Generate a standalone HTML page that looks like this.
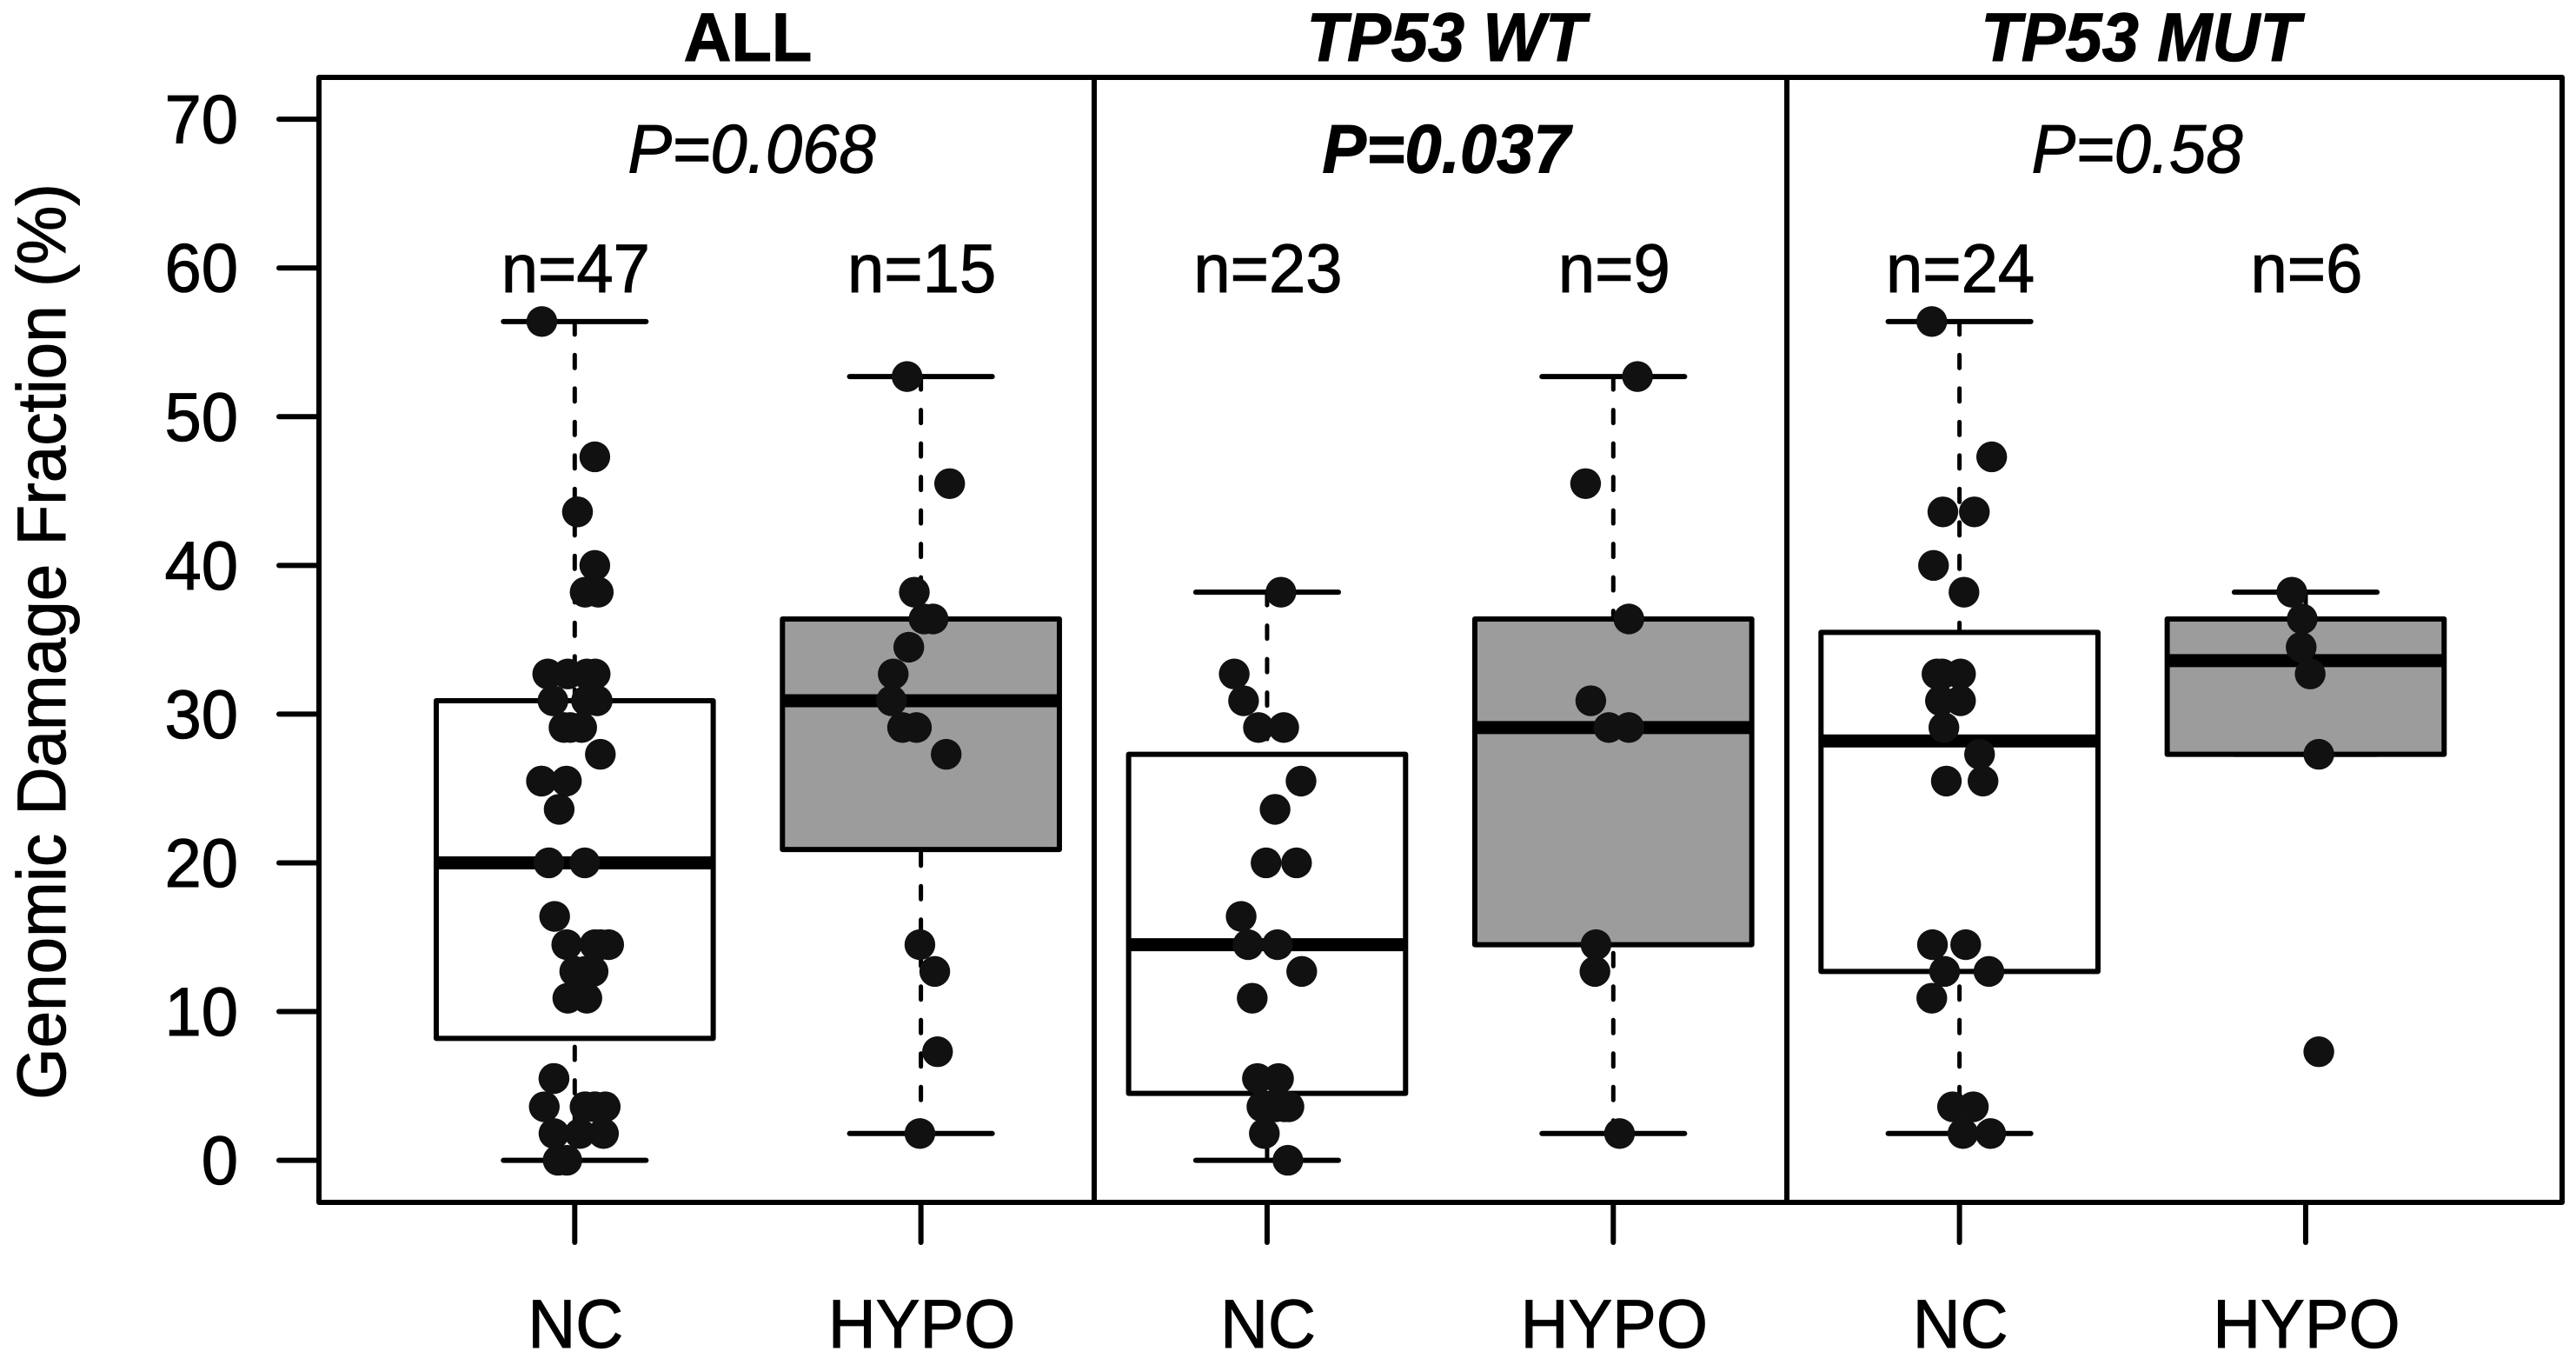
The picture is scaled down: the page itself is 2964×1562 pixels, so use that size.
<!DOCTYPE html>
<html lang="en">
<head>
<meta charset="utf-8">
<title>Genomic Damage Fraction boxplots</title>
<style>
html,body{margin:0;padding:0;background:#fff;}
svg{display:block;}
text{font-family:"Liberation Sans",Arial,sans-serif;fill:#000;stroke:#000;stroke-width:1;font-kerning:none;text-rendering:geometricPrecision;}
</style>
</head>
<body>
<svg id="chart" xmlns="http://www.w3.org/2000/svg" width="2964" height="1562" viewBox="0 0 2964 1562">
  <rect x="0" y="0" width="2964" height="1562" fill="#fff"/>
  <text x="0" y="0" transform="translate(75,738) rotate(-90) scale(1.006,1.04)" font-size="76" text-anchor="middle">Genomic Damage Fraction (%)</text>
  <text x="860.5" y="70" transform="translate(860.5 70) scale(1 1.04) translate(-860.5 -70)" font-size="76" font-weight="bold" text-anchor="middle">ALL</text>
  <text x="1664" y="70" transform="translate(1664 70) scale(1 1.04) translate(-1664 -70)" font-size="76" font-weight="bold" font-style="italic" text-anchor="middle">TP53 WT</text>
  <text x="2463" y="70" transform="translate(2463 70) scale(1 1.04) translate(-2463 -70)" font-size="76" font-weight="bold" font-style="italic" text-anchor="middle">TP53 MUT</text>
  <text x="865" y="198.5" transform="translate(865 198.5) scale(1 1.04) translate(-865 -198.5)" font-size="76" font-style="italic" text-anchor="middle">P=0.068</text>
  <text x="1664" y="198.5" transform="translate(1664 198.5) scale(1 1.04) translate(-1664 -198.5)" font-size="76" font-weight="bold" font-style="italic" text-anchor="middle">P=0.037</text>
  <text x="2459" y="198.5" transform="translate(2459 198.5) scale(1 1.04) translate(-2459 -198.5)" font-size="76" font-style="italic" text-anchor="middle">P=0.58</text>
  <g id="marks"></g>
  <g id="frame"></g>
  <g id="axes"></g>
</svg>
<script>
// ---- chart data ----
const yTickValues = [0, 10, 20, 30, 40, 50, 60, 70];
const yTickLabels = ["0", "10", "20", "30", "40", "50", "60", "70"];
const categories = ["NC", "HYPO", "NC", "HYPO", "NC", "HYPO"];
const groupNames = ["all-nc", "all-hypo", "wt-nc", "wt-hypo", "mut-nc", "mut-hypo"];
const sampleCounts = ["n=47", "n=15", "n=23", "n=9", "n=24", "n=6"];
const boxFills = ["#ffffff", "#9c9c9c", "#ffffff", "#9c9c9c", "#ffffff", "#9c9c9c"];

const whiskerLow  = [0,    1.8,  0,    1.8,  1.8,  27.3];
const quartile1   = [8.2,  20.9, 4.5,  14.5, 12.7, 27.3];
const medians     = [20,   30.9, 14.5, 29.1, 28.2, 33.6];
const quartile3   = [30.9, 36.4, 27.3, 36.4, 35.5, 36.4];
const whiskerHigh = [56.4, 52.7, 38.2, 52.7, 56.4, 38.2];

// Point values (percent) and horizontal jitter (in category units)
const allNcValues = [56.4,47.3,43.6,43.6,40,38.2,38.2,32.7,32.7,32.7,32.7,30.9,30.9,30.9,29.1,29.1,29.1,27.3,25.5,25.5,25.5,23.6,20,20,16.4,14.5,14.5,14.5,14.5,12.7,12.7,12.7,10.9,10.9,5.5,5.5,3.6,3.6,3.6,3.6,3.6,3.6,1.8,1.8,1.8,0,0];
const allNcJitter = [-0.095,0.058,0.008,0.008,0.058,0.030,0.068,-0.078,-0.020,0.035,0.059,-0.063,0.034,0.065,-0.031,-0.013,0.020,0.074,-0.096,-0.024,-0.096,-0.045,-0.075,0.029,-0.058,-0.023,0.058,0.098,0.075,0,0.030,0.053,-0.020,0.035,-0.060,-0.060,-0.088,0.030,0.058,0.088,0.058,0.030,-0.060,0.015,0.083,-0.048,-0.023];

const allHypoValues = [52.7,45.5,38.2,36.4,36.4,34.5,32.7,30.9,29.1,29.1,27.3,14.5,12.7,7.3,1.8];
const allHypoJitter = [-0.040,0.083,-0.019,0.009,0.035,-0.035,-0.080,-0.085,-0.053,-0.013,0.073,-0.003,0.040,0.048,-0.003];

const wtNcValues = [38.2,32.7,30.9,29.1,29.1,25.5,23.6,20,20,16.4,14.5,14.5,12.7,10.9,5.5,5.5,3.6,3.6,3.6,3.6,3.6,1.8,0];
const wtNcJitter = [0.040,-0.095,-0.068,-0.025,0.048,0.098,0.023,-0.003,0.085,-0.075,-0.055,0.030,0.100,-0.043,-0.028,0.033,-0.015,0.005,0.025,0.050,0.063,-0.008,0.060];

const wtHypoValues = [52.7,45.5,36.4,30.9,29.1,29.1,14.5,12.7,1.8];
const wtHypoJitter = [0.070,-0.080,0.045,-0.065,-0.013,0.045,-0.050,-0.053,0.018];

const mutNcValues = [56.4,47.3,43.6,43.6,40,38.2,32.7,32.7,32.7,30.9,30.9,29.1,27.3,25.5,25.5,14.5,14.5,12.7,12.7,10.9,3.6,3.6,1.8,1.8];
const mutNcJitter = [-0.080,0.093,-0.048,0.043,-0.075,0.013,-0.065,-0.050,0.003,-0.055,0.003,-0.045,0.058,-0.038,0.068,-0.078,0.018,-0.043,0.085,-0.080,-0.020,0.040,0.010,0.090];

const mutHypoValues = [38.2,36.4,34.5,32.7,27.3,7.3];
const mutHypoJitter = [-0.040,-0.010,-0.013,0.013,0.038,0.038];

const groupValues = [allNcValues, allHypoValues, wtNcValues, wtHypoValues, mutNcValues, mutHypoValues];
const groupJitter = [allNcJitter, allHypoJitter, wtNcJitter, wtHypoJitter, mutNcJitter, mutHypoJitter];

// ---- axis functions ----
function yAxis(v) { return 1334.6 - 17.106 * v; }
function xAxis(c) { return 661.3 + 398.33 * c; }

const SVG_NS = "http://www.w3.org/2000/svg";
const BOX_HALF = 0.4;
const CAP_HALF = 0.206;
const marks = document.getElementById("marks");
const frame = document.getElementById("frame");
const axes = document.getElementById("axes");

function mkLine(parent, x1, y1, x2, y2, width, cap) {
  const el = document.createElementNS(SVG_NS, "line");
  el.setAttribute("x1", x1);
  el.setAttribute("y1", y1);
  el.setAttribute("x2", x2);
  el.setAttribute("y2", y2);
  el.setAttribute("stroke", "#000");
  el.setAttribute("stroke-width", width);
  el.setAttribute("stroke-linecap", cap || "round");
  parent.appendChild(el);
  return el;
}

function mkText(parent, x, y, str) {
  const el = document.createElementNS(SVG_NS, "text");
  el.setAttribute("x", x);
  el.setAttribute("y", y);
  el.setAttribute("transform", "translate(" + x + " " + y + ") scale(1 1.04) translate(" + (-x) + " " + (-y) + ")");
  el.setAttribute("font-size", "76");
  el.setAttribute("text-anchor", "middle");
  el.textContent = str;
  parent.appendChild(el);
  return el;
}

// ---- frame ----
const frameRect = document.createElementNS(SVG_NS, "rect");
frameRect.setAttribute("x", 367);
frameRect.setAttribute("y", 89);
frameRect.setAttribute("width", 2581);
frameRect.setAttribute("height", 1294);
frameRect.setAttribute("fill", "none");
frameRect.setAttribute("stroke", "#000");
frameRect.setAttribute("stroke-width", 6);
frameRect.setAttribute("stroke-linejoin", "round");


frame.appendChild(frameRect);

const dividerA = mkLine(frame, 1259, 89, 1259, 1383, 6, "butt");


const dividerB = mkLine(frame, 2056, 89, 2056, 1383, 6, "butt");



// ---- y axis ----
yTickValues.forEach(function (v, i) {
  const tick = mkLine(axes, 321, yAxis(v), 367, yAxis(v), 6, "round");
  
  
  const label = mkText(axes, 274, yAxis(v) + 27.5, yTickLabels[i]);
  label.setAttribute("text-anchor", "end");
  
  
});

// ---- x axis ----
categories.forEach(function (name, i) {
  const tick = mkLine(axes, xAxis(i), 1383, xAxis(i), 1429, 6, "round");
  
  
  const label = mkText(axes, xAxis(i) + 1, 1550, name);
  
  
});

// ---- boxes and points ----
categories.forEach(function (name, i) {
  const g = document.createElementNS(SVG_NS, "g");
  
  
  marks.appendChild(g);

  const cx = xAxis(i);
  const upper = mkLine(g, cx, yAxis(whiskerHigh[i]), cx, yAxis(quartile3[i]), 5, "round");
  upper.setAttribute("stroke-dasharray", "15 23.5");
  
  

  const lower = mkLine(g, cx, yAxis(whiskerLow[i]), cx, yAxis(quartile1[i]), 5, "round");
  lower.setAttribute("stroke-dasharray", "15 23.5");
  
  

  const capHigh = mkLine(g, xAxis(i - CAP_HALF), yAxis(whiskerHigh[i]), xAxis(i + CAP_HALF), yAxis(whiskerHigh[i]), 6, "round");
  
  

  const capLow = mkLine(g, xAxis(i - CAP_HALF), yAxis(whiskerLow[i]), xAxis(i + CAP_HALF), yAxis(whiskerLow[i]), 6, "round");
  
  

  const box = document.createElementNS(SVG_NS, "rect");
  box.setAttribute("x", xAxis(i - BOX_HALF));
  box.setAttribute("y", yAxis(quartile3[i]));
  box.setAttribute("width", xAxis(i + BOX_HALF) - xAxis(i - BOX_HALF));
  box.setAttribute("height", yAxis(quartile1[i]) - yAxis(quartile3[i]));
  box.setAttribute("fill", boxFills[i]);
  box.setAttribute("stroke", "#000");
  box.setAttribute("stroke-width", 6);
  box.setAttribute("stroke-linejoin", "round");
  
  
  g.appendChild(box);

  const med = mkLine(g, xAxis(i - BOX_HALF), yAxis(medians[i]), xAxis(i + BOX_HALF), yAxis(medians[i]), 15, "butt");
  
  

  groupValues[i].forEach(function (v, k) {
    const dot = document.createElementNS(SVG_NS, "circle");
    dot.setAttribute("cx", xAxis(i + groupJitter[i][k]));
    dot.setAttribute("cy", yAxis(v));
    dot.setAttribute("r", 17.7);
    dot.setAttribute("fill", "#111111");
    
    
    g.appendChild(dot);
  });

  const count = mkText(g, cx + 1, 336, sampleCounts[i]);
  
  
});
</script>
</body>
</html>
